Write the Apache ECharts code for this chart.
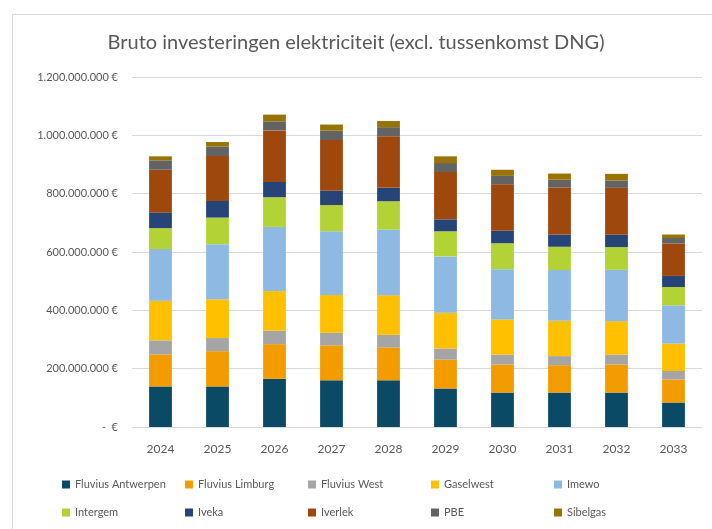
<!DOCTYPE html>
<html>
<head>
<meta charset="utf-8">
<script src="https://cdn.jsdelivr.net/npm/echarts@6/dist/echarts.min.js"></script>
<style>
html,body{margin:0;padding:0;background:#fff;}
#c{width:712px;height:529px;}
</style>
</head>
<body>
<div id="c"></div>
<script>
// Values in million euro
const categories = ['2024','2025','2026','2027','2028','2029','2030','2031','2032','2033'];
const seriesNames = ['Fluvius Antwerpen','Fluvius Limburg','Fluvius West','Gaselwest','Imewo','Intergem','Iveka','Iverlek','PBE','Sibelgas'];
const fluviusAntwerpen = [139, 139, 165, 160, 160, 132, 118, 118, 118, 84];
const fluviusLimburg   = [110, 121, 119, 120, 113,  99,  96,  94,  96, 79];
const fluviusWest      = [ 48,  45,  46,  43,  43,  38,  34,  31,  34, 29];
const gaselwest        = [136, 133, 136, 130, 136, 123, 121, 121, 115, 94];
const imewo            = [177, 189, 220, 218, 225, 193, 172, 174, 176, 131];
const intergem         = [ 72,  91, 102,  90,  97,  86,  89,  80,  78, 63];
const iveka            = [ 53,  57,  52,  49,  46,  41,  43,  42,  42, 38];
const iverlek          = [147, 154, 177, 174, 177, 162, 159, 161, 161, 111];
const pbe              = [ 32,  33,  31,  32,  31,  31,  29,  27,  25, 19];
const sibelgas         = [ 14,  15,  23,  21,  21,  23,  21,  21,  23, 12];
const yTicks = [0, 200, 400, 600, 800, 1000, 1200];

const seriesData = [fluviusAntwerpen, fluviusLimburg, fluviusWest, gaselwest, imewo, intergem, iveka, iverlek, pbe, sibelgas];
const colors = ['#0B4A64','#F39C00','#A5A5A5','#FFC000','#8DB9E3','#B2D235','#264478','#9E480E','#636363','#997300'];

const fontFam = 'Lato, "Liberation Sans", sans-serif';
const chart = echarts.init(document.getElementById('c'), null, {renderer:'canvas'});

function fmt(v){
  if (v === 0) return '-  €';
  const n = Math.round(v * 1000000);
  return n.toString().replace(/\B(?=(\d{3})+(?!\d))/g, '.') + ' €';
}

const legends = seriesNames.map((name, i) => ({
  data: [name],
  left: 57 + (i % 5) * 123,
  top: 474 + Math.floor(i / 5) * 28,
  itemWidth: 8,
  itemHeight: 8,
  icon: 'rect',
  itemGap: 0,
  selectedMode: false,
  textStyle: {color: '#595959', fontSize: 11, fontFamily: fontFam}
}));

chart.setOption({
  animation: false,
  backgroundColor: '#fff',
  color: colors,
  graphic: [{
    type: 'rect', left: 10, top: 12,
    shape: {width: 720, height: 540},
    style: {fill: 'none', stroke: '#D9D9D9', lineWidth: 1},
    silent: true
  }],
  title: {
    text: 'Bruto investeringen elektriciteit (excl. tussenkomst DNG)',
    left: 'center', top: 28,
    textStyle: {color: '#595959', fontSize: 20, fontWeight: 'normal', fontFamily: fontFam}
  },
  legend: legends,
  grid: {left: 132, right: 10, top: 77, bottom: 102, containLabel: false},
  xAxis: {
    type: 'category',
    data: categories,
    axisLine: {lineStyle: {color: '#D9D9D9'}},
    axisTick: {show: false},
    axisLabel: {color: '#595959', fontSize: 12, fontFamily: fontFam, margin: 16}
  },
  yAxis: {
    type: 'value',
    min: 0, max: 1200, interval: 200,
    axisLine: {show: false},
    axisTick: {show: false},
    splitLine: {lineStyle: {color: '#D9D9D9'}},
    axisLabel: {color: '#595959', fontSize: 11, fontFamily: fontFam, margin: 14, formatter: fmt}
  },
  series: seriesNames.map((name, i) => ({
    name: name,
    type: 'bar',
    stack: 'total',
    barWidth: '40%',
    data: seriesData[i],
    itemStyle: {color: colors[i]}
  }))
});
</script>
</body>
</html>
